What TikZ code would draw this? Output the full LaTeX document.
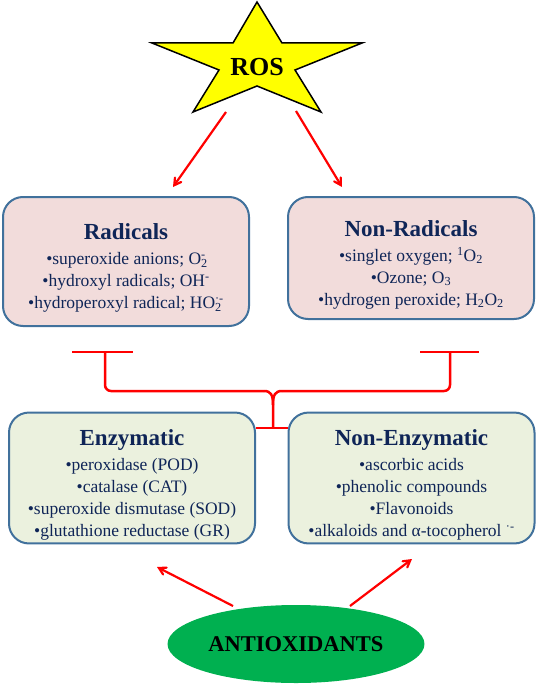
\documentclass[tikz,border=0pt]{standalone}
\usepackage{fontspec}
\setmainfont{Liberation Serif}
\usepackage{tikz}
\usetikzlibrary{arrows}
\usetikzlibrary{shapes,shapes.geometric}
\definecolor{vangsao}{HTML}{FFFF00}
\definecolor{vienxanh}{HTML}{41719C}
\definecolor{chunavy}{HTML}{0F2557}
\definecolor{nenhong}{HTML}{F2DCDB}
\definecolor{nenluc}{HTML}{EBF1DE}
\definecolor{xanhla}{HTML}{00B050}
\newcommand{\tieude}{\fontsize{23}{25}\selectfont\bfseries\rule{0pt}{29.5pt}}
\newcommand{\hoa}[2]{\rlap{\textsubscript{#1}}\textsuperscript{#2}}

\begin{document}
\begin{tikzpicture}[x=1pt,y=-1pt,
		hop/.style={draw=vienxanh,line width=2pt,rounded corners=20pt,minimum width=246pt,align=center,text=chunavy,font=\fontsize{17.5}{22}\selectfont},
		muido/.style={red,line width=2.2pt,-angle 60},
		dobra/.style={red,line width=2.5pt}]
				\useasboundingbox (0,0) rectangle (537,685);
				\draw[fill=vangsao,line width=1.5pt] (257,2) -- (282,43) -- (362,43) -- (295,70) -- (321,112) -- (257,86) -- (193,112) -- (219,70) -- (152,43) -- (233,43) -- cycle;
				\node[font=\fontsize{26}{26}\selectfont\bfseries] (ros) at (257,67) {ROS};
				\node[hop,fill=nenhong,minimum height=129pt] (rad) at (126,261.5) {{\tieude Radicals}\\[3pt]•superoxide anions; O\hoa{2}{-}\\•hydroxyl radicals; OH\textsuperscript{-}\\•hydroperoxyl radical; HO\hoa{2}{·-}};
				\node[hop,fill=nenhong,minimum height=122pt] (nonrad) at (411,258) {{\tieude Non-Radicals}\\[3pt]•singlet oxygen; \textsuperscript{1}O\textsubscript{2}\\•Ozone; O\textsubscript{3}\\•hydrogen peroxide; H\textsubscript{2}O\textsubscript{2}};
				\node[hop,fill=nenluc,minimum height=128pt] (enz) at (132,478) {{\tieude Enzymatic}\\[3pt]•peroxidase (POD)\\•catalase (CAT)\\•superoxide dismutase (SOD)\\•glutathione reductase (GR)};
				\node[hop,fill=nenluc,minimum height=128pt] (nonenz) at (411.5,478) {{\tieude Non-Enzymatic}\\[3pt]•ascorbic acids\\•phenolic compounds\\•Flavonoids\\•alkaloids and α-tocopherol \textsuperscript{·-}};
				\node[ellipse,fill=xanhla,minimum width=235pt,minimum height=78pt,font=\fontsize{22.5}{22.5}\selectfont\bfseries] (anti) at (296,644) {ANTIOXIDANTS};
				\coordinate (r1) at (226,112);
				\coordinate (r2) at (173,187);
				\coordinate (n1) at (296,111);
				\coordinate (n2) at (342,187);
				\coordinate (a1) at (233,606);
				\coordinate (a2) at (157,567);
				\coordinate (a3) at (350,606);
				\coordinate (a4) at (412,559);
				\coordinate (kn) at (273,428);
				\draw[muido] (r1) -- (r2);
				\draw[muido] (n1) -- (n2);
				\draw[muido] (a1) -- (a2);
				\draw[muido] (a3) -- (a4);
				\draw[dobra] (72,352) -- (133,352);
				\draw[dobra] (420,352) -- (479,352);
				\draw[dobra,rounded corners=6pt] (105,352) -- (105,391) -- (264,391);
				\draw[dobra,rounded corners=6pt] (450,352) -- (450,391) -- (282,391);
				\draw[dobra] (264,391) .. controls (271,391) and (273,395) .. (273,405) -- (kn);
				\draw[dobra] (282,391) .. controls (275,391) and (273,395) .. (273,405);
				\draw[dobra] (enz.east |- kn) -- (nonenz.west |- kn);
			\end{tikzpicture}
\end{document}
